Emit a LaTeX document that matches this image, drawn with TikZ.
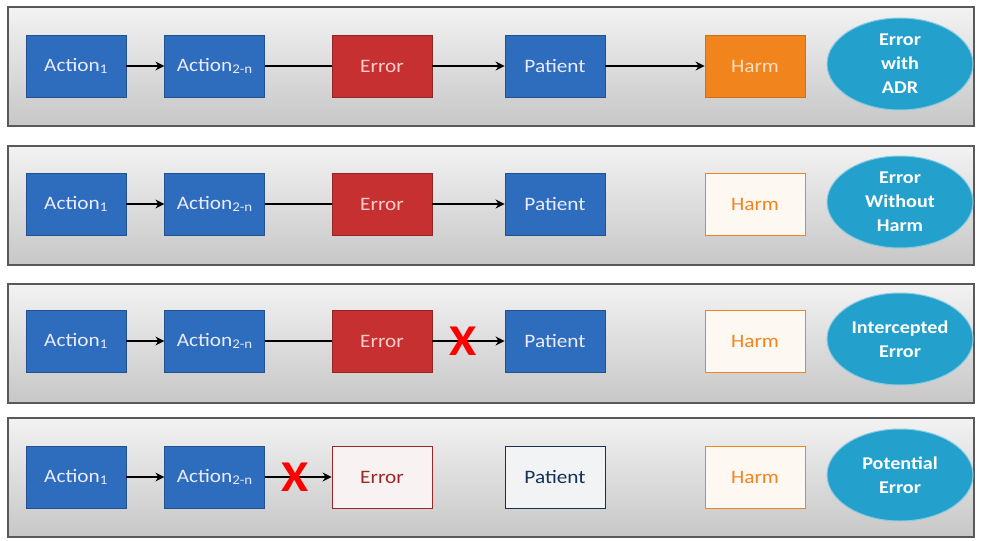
\documentclass[tikz,border=0pt]{standalone}
\usepackage{fontspec}
\setmainfont{Carlito}[FakeStretch=1.12]
\tikzset{>=stealth}
\usetikzlibrary{shapes.geometric,positioning,calc,arrows.meta}
\definecolor{actblue}{RGB}{46,108,190}
\definecolor{errred}{RGB}{198,48,48}
\definecolor{harmorange}{RGB}{242,132,30}
\definecolor{tagteal}{RGB}{36,160,204}
\colorlet{background}{white}

\begin{document}
\begin{tikzpicture}[x=1pt,y=-1pt,
base/.style = {
    minimum width=100pt, minimum height=62pt,
    inner sep=0pt, line width=0.8pt,
    font=\fontsize{19}{22}\selectfont,
                            },
act/.style   = {base, draw=actblue!75!black, fill=actblue, text=blue!8},
err/.style   = {base, draw=errred!75!black, fill=errred, text=red!20},
harm/.style  = {base, draw=harmorange!85!black, fill=harmorange, text=orange!25},
% faded boxes: what did not happen
ghost/.style = {base, draw=#1, fill=#1!6, text=#1},
tag/.style   = {ellipse, draw=tagteal!55, line width=1pt,
    fill=tagteal, text=white, align=center,
    minimum width=146pt, minimum height=92pt, inner sep=0pt,
    font=\bfseries\fontsize{18}{24}\selectfont},
link/.style  = {line width=2pt, black},
go/.style    = {link, -{Stealth[length=9pt,width=9pt]}},
stopx/.style = {text=red, inner sep=0pt,
    font=\bfseries\fontsize{44}{44}\selectfont},
                    ]
\useasboundingbox (0,0) rectangle (981,540);
% panels
\foreach \t in {7,146,284,418}
    \path[draw=black!65, line width=1.4pt,
          top color=black!5, bottom color=black!22]
        (8,\t) rectangle (974,\t+119);
% first two steps, the same in every row
\foreach \r/\yy in {1/66,2/204,3/341,4/477}{
    \node[act] (a\r) at (76,\yy) {Action\textsubscript{1}};
    \node[act, right=38pt of a\r] (b\r) {Action\textsubscript{2-n}};
    \draw[go] (a\r) -- (b\r);
}
% row 1
\node[err]  (e1) at (382,66) {Error};
\node[act]  (p1) at (555,66) {Patient};
\node[harm] (h1) at (755,66) {Harm};
\node[tag]  (t1) at (900,64) {Error\\with\\ADR};
\draw[link] (b1) -- (e1);
\draw[go] (e1) -- (p1);
\draw[go] (p1) -- (h1);
% row 2
\node[err]  (e2) at (382,204) {Error};
\node[act]  (p2) at (555,204) {Patient};
\node[ghost=harmorange] (h2) at (755,204) {Harm};
\node[tag]  (t2) at (900,202) {Error\\Without\\Harm};
\draw[link] (b2) -- (e2);
\draw[go] (e2) -- (p2);
% row 3
\node[err]  (e3) at (382,341) {Error};
\node[act]  (p3) at (555,341) {Patient};
\node[ghost=harmorange] (h3) at (755,341) {Harm};
\node[tag]  (t3) at (900,339) {Intercepted\\Error};
\draw[link] (b3) -- (e3);
\draw[go] (e3) -- (p3);
\node[stopx] (x3) at ($(e3.east)!0.42!(p3.west)$) {X};
% row 4
\node[ghost=errred!80!black]   (e4) at (382,477) {Error};
\node[ghost=actblue!45!black]  (p4) at (555,477) {Patient};
\node[ghost=harmorange]        (h4) at (755,477) {Harm};
\node[tag]  (t4) at (900,475) {Potential\\Error};
\draw[go] (b4) -- (e4);
\node[stopx] (x4) at ($(b4.east)!0.45!(e4.west)$) {X};
\end{tikzpicture}
\end{document}
